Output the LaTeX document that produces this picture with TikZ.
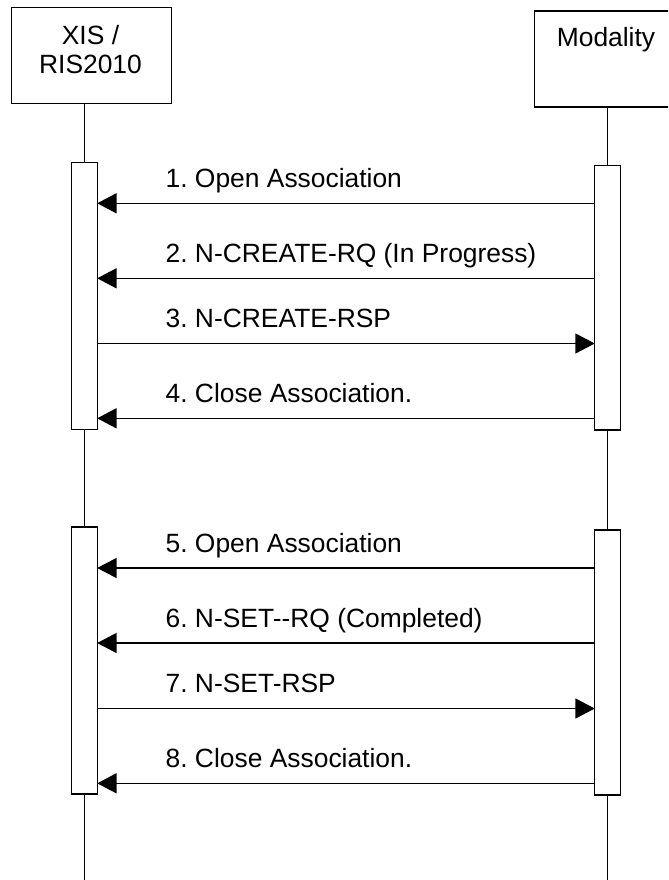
\documentclass[tikz,border=0pt]{standalone}
\usepackage{fontspec}
\setmainfont[Ligatures=NoCommon]{Liberation Sans}
\usetikzlibrary{arrows.meta}
\frenchspacing
\begin{document}
\begin{tikzpicture}[x=0.75pt,y=-0.75pt,
  line width=1pt,
  every node/.style={font=\fontsize{19.8}{23}\selectfont},
  actor/.style={draw,rectangle,inner sep=0pt,outer sep=0pt},
  actbar/.style={draw,fill=white,rectangle,inner sep=0pt,outer sep=0pt,minimum width=19.5pt},
  msg/.style={-{Triangle[length=14.5pt,width=15pt]}},
  msglabel/.style={anchor=base west,inner sep=0pt}]
\useasboundingbox (0,0) rectangle (668,880);
\clip (0,0) rectangle (668,880);

% participants
\node[actor,minimum width=120pt,minimum height=72pt] (xis) at (91.7,55.7) {};
\node[anchor=base,inner sep=0pt] (xist1) at (90.5,45) {XIS /};
\node[anchor=base,inner sep=0pt] (xist2) at (90.5,73.3) {RIS2010};
\node[actor,minimum width=107.5pt,minimum height=72pt] (mod) at (606.3,59) {};
\node[anchor=base,inner sep=0pt] (modt) at (606,46.7) {Modality};

% activation bars
\node[actbar,minimum height=199.95pt] (la1) at (84.2,296) {};
\node[actbar,minimum height=200.25pt] (la2) at (84.2,660.5) {};
\node[actbar,minimum height=198.2pt] (ra1) at (607.7,297.85) {};
\node[actbar,minimum height=198.75pt] (ra2) at (607.7,662.5) {};

% lifelines
\coordinate (lend) at (84.2,880);
\coordinate (rend) at (607.7,880);
\draw (xis.south -| la1.north) -- (la1.north);
\draw (la1.south) -- (la2.north);
\draw (la2.south) -- (lend);
\draw (mod.south -| ra1.north) -- (ra1.north);
\draw (ra1.south) -- (ra2.north);
\draw (ra2.south) -- (rend);

% first association
\draw[msg] (ra1.west |- 0,203.3) -- (la1.east |- 0,203.3);
\node[msglabel] (l1) at (165,187.3) {1. Open Association};
\draw[msg] (ra1.west |- 0,278.3) -- (la1.east |- 0,278.3);
\node[msglabel] (l2) at (165,262.3) {2. N-CREATE-RQ (In Progress)};
\draw[msg] (la1.east |- 0,343.5) -- (ra1.west |- 0,343.5);
\node[msglabel] (l3) at (165,327.5) {3. N-CREATE-RSP};
\draw[msg] (ra1.west |- 0,418.3) -- (la1.east |- 0,418.3);
\node[msglabel] (l4) at (165,402.3) {4. Close Association.};

% second association
\draw[msg] (ra2.west |- 0,568) -- (la2.east |- 0,568);
\node[msglabel] (l5) at (165,552) {5. Open Association};
\draw[msg] (ra2.west |- 0,643) -- (la2.east |- 0,643);
\node[msglabel] (l6) at (165,627) {6. N-SET-{}-RQ (Completed)};
\draw[msg] (la2.east |- 0,708.5) -- (ra2.west |- 0,708.5);
\node[msglabel] (l7) at (165,692.5) {7. N-SET-RSP};
\draw[msg] (ra2.west |- 0,783.3) -- (la2.east |- 0,783.3);
\node[msglabel] (l8) at (165,767.3) {8. Close Association.};
\end{tikzpicture}
\end{document}
